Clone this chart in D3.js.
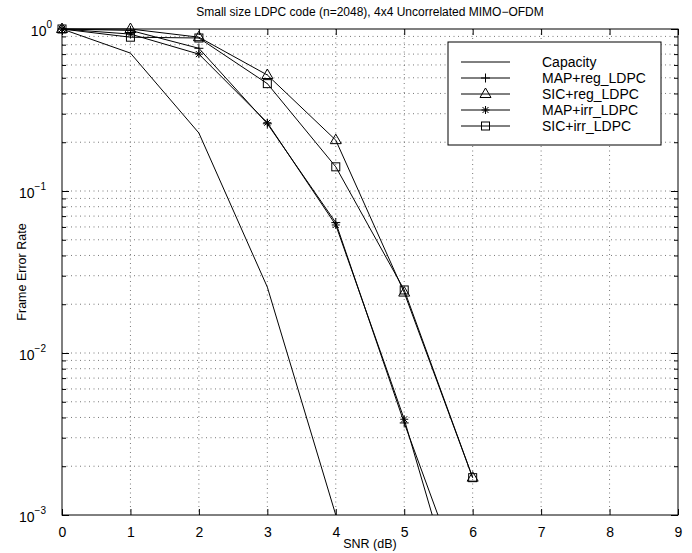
<!DOCTYPE html>
<html>
<head>
<meta charset="utf-8">
<style>
    body { margin: 0; background: white; }
    svg { font-family: "Liberation Sans", Arial, sans-serif; }
    .grid line { stroke: #555; stroke-width: 0.8; stroke-dasharray: 1,3.5; }
    .axis .domain { display: none; }
    .axis line { stroke: black; }
    .axis text { font-size: 14px; fill: black; }
    .series { fill: none; stroke: black; stroke-width: 1; }
</style>
</head>
<body>
<svg width="692" height="553"></svg>

<script src="https://d3js.org/d3.v7.min.js"></script>
<script>
    // SNR points (dB)
    let snr = [0, 1, 2, 3, 4, 5, 6]

    let capacity   = [1.0, 0.71, 0.228, 0.0255, 0.001]
    let mapReg     = [1.0, 0.98, 0.76, 0.26, 0.0638, 0.0037, 0.00026]
    let sicReg     = [1.0, 1.0, 0.89, 0.52, 0.206, 0.0236, 0.0017]
    let mapIrr     = [1.0, 0.93, 0.70, 0.264, 0.0617, 0.0039, 0.00014]
    let sicIrr     = [1.0, 0.89, 0.88, 0.46, 0.141, 0.0245, 0.0017]

    let seriesNames = ["Capacity", "MAP+reg_LDPC", "SIC+reg_LDPC", "MAP+irr_LDPC", "SIC+irr_LDPC"]
    let seriesMarkers = ["none", "plus", "triangle", "star", "square"]

    let xTicks = [0, 1, 2, 3, 4, 5, 6, 7, 8, 9]
    let yDecades = [1, 0.1, 0.01, 0.001]
    let yExponents = ["0", "−1", "−2", "−3"]

    let margin = { top: 29, right: 14, bottom: 38, left: 62 }
    let width = 692, height = 553

    let svg = d3.select("svg")

    let x = d3.scaleLinear()
        .domain([0, 9])
        .range([margin.left, width - margin.right])

    let y = d3.scaleLog()
        .domain([0.001, 1])
        .range([height - margin.bottom, margin.top])

    // minor values 2..9 in every decade
    let minorVals = []
    yDecades.slice(1).forEach(function (d) {
        for (let k = 1; k <= 9; k++) minorVals.push(d * k)
    })
    minorVals.push(1)

    // grid
    let grid = svg.append("g").attr("class", "grid")
    grid.selectAll(".gx")
        .data(xTicks.slice(1, -1))
        .join("line")
        .attr("x1", d => x(d)).attr("x2", d => x(d))
        .attr("y1", y(1)).attr("y2", y(0.001))
    grid.selectAll(".gy")
        .data(minorVals.filter(v => v > 0.001 && v < 1))
        .join("line")
        .attr("x1", x(0)).attr("x2", x(9))
        .attr("y1", d => y(d)).attr("y2", d => y(d))

    // axes with inward ticks
    let xAxisBottom = d3.axisBottom(x).tickValues(xTicks).tickSize(-6).tickPadding(12).tickFormat(d3.format("d"))
    svg.append("g")
        .attr("class", "x axis")
        .attr("transform", `translate(0,${y(0.001)})`)
        .call(xAxisBottom)

    svg.append("g")
        .attr("class", "x axis")
        .attr("transform", `translate(0,${y(1)})`)
        .call(d3.axisTop(x).tickValues(xTicks).tickSize(-6).tickFormat(""))

    svg.append("g")
        .attr("class", "y axis")
        .attr("transform", `translate(${x(0)},0)`)
        .call(d3.axisLeft(y).tickValues(minorVals).tickSize(-4).tickFormat(""))
    svg.append("g")
        .attr("class", "y axis")
        .attr("transform", `translate(${x(0)},0)`)
        .call(d3.axisLeft(y).tickValues(yDecades).tickSize(-7).tickFormat(""))
    svg.append("g")
        .attr("class", "y axis")
        .attr("transform", `translate(${x(9)},0)`)
        .call(d3.axisRight(y).tickValues(minorVals).tickSize(-4).tickFormat(""))
    svg.append("g")
        .attr("class", "y axis")
        .attr("transform", `translate(${x(9)},0)`)
        .call(d3.axisRight(y).tickValues(yDecades).tickSize(-7).tickFormat(""))

    // y tick labels 10^n
    let ylab = svg.append("g").attr("class", "axis")
    yDecades.forEach(function (d, i) {
        let t = ylab.append("text")
            .attr("x", x(0) - 4 - (i == 0 ? 6 : 12))
            .attr("y", y(d) + 7)
            .attr("text-anchor", "end")
        t.append("tspan").text("10")
        t.append("tspan")
            .attr("dy", -8)
            .style("font-size", "10px")
            .text(yExponents[i])
    })

    // plot frame
    svg.append("rect")
        .attr("x", x(0)).attr("y", y(1))
        .attr("width", x(9) - x(0)).attr("height", y(0.001) - y(1))
        .style("fill", "none").style("stroke", "black").style("stroke-width", 1)

    svg.append("clipPath").attr("id", "clip")
        .append("rect")
        .attr("x", x(0) - 6).attr("y", y(1) - 6)
        .attr("width", x(9) - x(0) + 12).attr("height", y(0.001) - y(1) + 6)

    svg.append("clipPath").attr("id", "clipl")
        .append("rect")
        .attr("x", x(0)).attr("y", y(1) - 6)
        .attr("width", x(9) - x(0)).attr("height", y(0.001) - y(1) + 6)

    let allSeries = [capacity, mapReg, sicReg, mapIrr, sicIrr]

    let line = d3.line()
        .x((d, i) => x(snr[i]))
        .y(d => y(d))

    function drawMarker(g, type, cx, cy) {
        if (type == "plus") {
            g.append("path").attr("d", `M${cx - 4.5},${cy}H${cx + 4.5}M${cx},${cy - 4.5}V${cy + 4.5}`)
        } else if (type == "star") {
            g.append("path").attr("d", `M${cx - 4},${cy}H${cx + 4}M${cx},${cy - 4}V${cy + 4}` +
                `M${cx - 3},${cy - 3}L${cx + 3},${cy + 3}M${cx - 3},${cy + 3}L${cx + 3},${cy - 3}`)
        } else if (type == "triangle") {
            g.append("path").attr("d", `M${cx},${cy - 6}L${cx + 5.5},${cy + 3.5}L${cx - 5.5},${cy + 3.5}Z`)
        } else if (type == "square") {
            g.append("rect").attr("x", cx - 4).attr("y", cy - 4).attr("width", 8).attr("height", 8)
        }
    }

    let plot = svg.append("g").attr("clip-path", "url(#clip)")
    allSeries.forEach(function (s, k) {
        plot.append("path")
            .datum(s)
            .attr("class", "series")
            .attr("clip-path", "url(#clipl)")
            .attr("d", line)
        let mg = plot.append("g").attr("class", "series")
        s.forEach(function (v, i) {
            if (v >= 0.001) drawMarker(mg, seriesMarkers[k], x(snr[i]), y(v))
        })
    })

    // legend
    let leg = svg.append("g").attr("transform", "translate(448,42)")
    leg.append("rect")
        .attr("width", 213).attr("height", 103)
        .style("fill", "white").style("stroke", "black").style("stroke-width", 1)
    seriesNames.forEach(function (name, i) {
        let ry = 20 + i * 16
        leg.append("line")
            .attr("x1", 13).attr("x2", 62)
            .attr("y1", ry).attr("y2", ry)
            .style("stroke", "black").style("stroke-width", 1)
        let mg = leg.append("g").attr("class", "series")
        drawMarker(mg, seriesMarkers[i], 37.5, ry)
        leg.append("text")
            .attr("x", 94).attr("y", ry + 5)
            .style("font-size", "14px")
            .text(name)
    })

    // title and axis labels
    svg.append("text")
        .attr("x", (x(0) + x(9)) / 2).attr("y", 16)
        .attr("text-anchor", "middle")
        .style("font-size", "12px")
        .text("Small size LDPC code (n=2048), 4x4 Uncorrelated MIMO−OFDM")

    svg.append("text")
        .attr("x", (x(0) + x(9)) / 2).attr("y", 548)
        .attr("text-anchor", "middle")
        .style("font-size", "12.5px")
        .text("SNR (dB)")

    svg.append("text")
        .attr("transform", `translate(26,${(y(1) + y(0.001)) / 2}) rotate(-90)`)
        .attr("text-anchor", "middle")
        .style("font-size", "12.5px")
        .text("Frame Error Rate")
</script>
</body>
</html>
